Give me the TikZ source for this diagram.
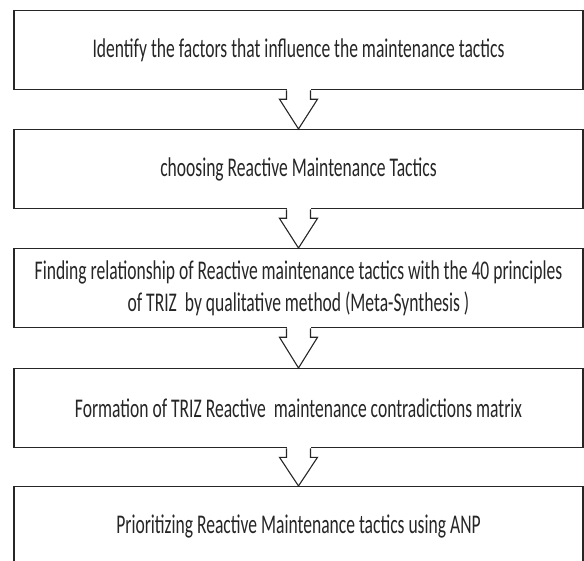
\documentclass[tikz,border=0pt]{standalone}
\usepackage{fontspec}
\setmainfont{Carlito}[FakeStretch=0.65]
\usepackage{tikz}
\usetikzlibrary{calc}

\begin{document}
\begin{tikzpicture}[x=1pt, y=-1pt,
    stage/.style={draw=black!85, line width=1.3pt, fill=white, minimum width=569pt, minimum height=79pt,
      anchor=north, align=center, text=black!85, font=\fontsize{27}{32}\selectfont},
    blockline/.style={draw=black!85, line width=1.1pt, line join=miter}]
  \useasboundingbox (0,0) rectangle (584,561);
  % Stages
  \node[stage] (s1) at (298.5,10) {Identify the factors that influence the maintenance tactics};
  \node[stage] (s2) at (298.5,129) {choosing Reactive Maintenance Tactics};
  \node[stage] (s3) at (298.5,248) {Finding relationship of Reactive maintenance tactics with the 40 principles\\of TRIZ\ \ by qualitative method (Meta-Synthesis )};
  \node[stage] (s4) at (298.5,368) {Formation of TRIZ Reactive\ \ maintenance contradictions matrix};
  \node[stage] (s5) at (298.5,486) {Prioritizing Reactive Maintenance tactics using ANP};
  % Hollow arrows between stages
  \foreach \a/\b in {s1/s2, s2/s3, s3/s4, s4/s5} {
    \fill[white] ($(\a.south)+(-12,-2)$) rectangle ($(\a.south)+(12,2)$);
    \draw[blockline] ($(\a.south)+(-12,0)$) -- ++(0,9) -- ++(-7,0) -- (\b.north)
      -- ($(\a.south)+(19,9)$) -- ++(-7,0) -- ++(0,-9);
  }
\end{tikzpicture}
\end{document}
